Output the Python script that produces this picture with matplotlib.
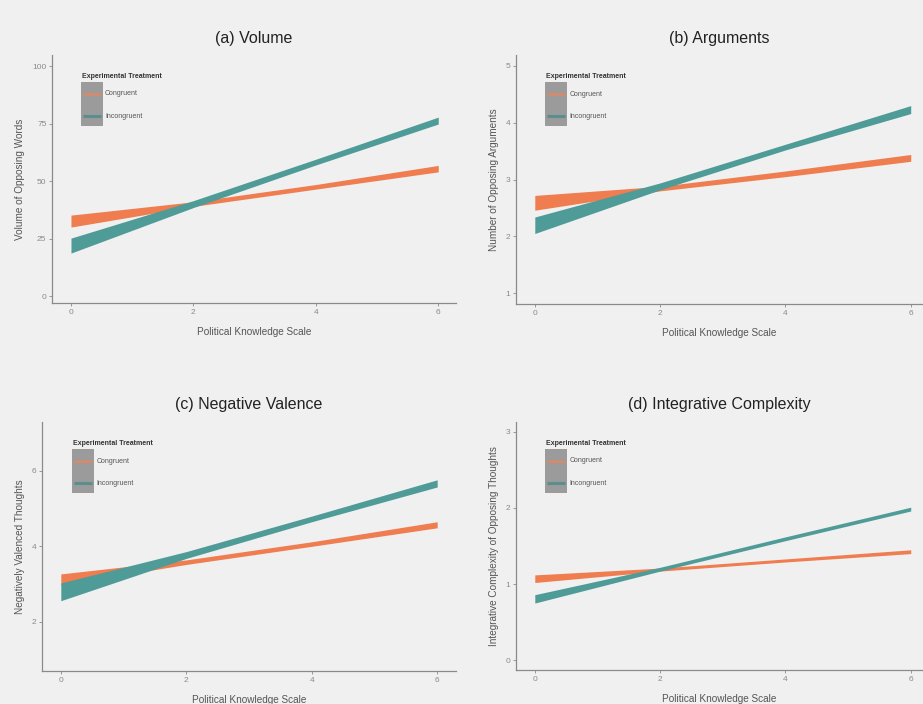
import numpy as np
import matplotlib.pyplot as plt
from matplotlib.patches import Rectangle

plt.rcParams['font.family'] = ['Liberation Sans', 'DejaVu Sans']

# knowledge scale points where the ribbons were read
knowledge = [0, 2, 4, 6]

# (a) Volume
vol_cong_lo = [30.0, 39.0, 46.5, 54.0]
vol_cong_hi = [35.2, 41.0, 48.5, 56.8]
vol_incong_lo = [18.7, 38.5, 57.0, 74.8]
vol_incong_hi = [25.2, 41.5, 59.5, 77.8]

# (b) Arguments
arg_cong_lo = [2.46, 2.80, 3.05, 3.32]
arg_cong_hi = [2.72, 2.88, 3.15, 3.44]
arg_incong_lo = [2.05, 2.82, 3.52, 4.16]
arg_incong_hi = [2.34, 2.94, 3.62, 4.30]

# (c) Negative Valence
neg_cong_lo = [2.98, 3.52, 4.00, 4.49]
neg_cong_hi = [3.27, 3.64, 4.12, 4.65]
neg_incong_lo = [2.56, 3.68, 4.65, 5.57]
neg_incong_hi = [3.03, 3.86, 4.80, 5.76]

# (d) Integrative Complexity
ic_cong_lo = [1.02, 1.17, 1.29, 1.40]
ic_cong_hi = [1.12, 1.21, 1.33, 1.45]
ic_incong_lo = [0.75, 1.17, 1.57, 1.96]
ic_incong_hi = [0.86, 1.22, 1.62, 2.01]

titles = ["(a) Volume", "(b) Arguments", "(c) Negative Valence", "(d) Integrative Complexity"]
ylabels = ["Volume of Opposing Words", "Number of Opposing Arguments",
           "Negatively Valenced Thoughts", "Integrative Complexity of Opposing Thoughts"]
yticks = [[0, 25, 50, 75, 100], [1, 2, 3, 4, 5], [2, 4, 6], [0, 1, 2, 3]]
xticks = [0, 2, 4, 6]
legend_title = "Experimental Treatment"
groups = ["Congruent", "Incongruent"]

orange = "#ef7d4f"
teal = "#4f9b98"
bg = "#f0f0f0"

W, H = 923, 704
fig = plt.figure(figsize=(W / 100, H / 100), dpi=100, facecolor=bg)

# axes boxes in pixels: left, top, right, bottom
boxes = [(52, 55, 456, 303), (516, 55, 922, 304), (42, 422, 456, 671), (516, 422, 922, 670)]
xlims = [(-0.31, 6.29), (-0.30, 6.18), (-0.30, 6.30), (-0.30, 6.18)]
ylims = [(-3.0, 104.8), (0.81, 5.19), (0.70, 7.29), (-0.13, 3.13)]

data = [
    (vol_cong_lo, vol_cong_hi, vol_incong_lo, vol_incong_hi),
    (arg_cong_lo, arg_cong_hi, arg_incong_lo, arg_incong_hi),
    (neg_cong_lo, neg_cong_hi, neg_incong_lo, neg_incong_hi),
    (ic_cong_lo, ic_cong_hi, ic_incong_lo, ic_incong_hi),
]

for i in range(4):
    l, t, r, b = boxes[i]
    ax = fig.add_axes([l / W, 1 - b / H, (r - l) / W, (b - t) / H])
    ax.set_facecolor(bg)
    c_lo, c_hi, n_lo, n_hi = data[i]
    ax.fill_between(knowledge, c_lo, c_hi, color=orange, lw=0)
    ax.fill_between(knowledge, n_lo, n_hi, color=teal, lw=0)

    ax.set_xlim(*xlims[i])
    ax.set_ylim(*ylims[i])
    ax.set_xticks(xticks)
    ax.set_yticks(yticks[i])
    for s in ["top", "right"]:
        ax.spines[s].set_visible(False)
    for s in ["left", "bottom"]:
        ax.spines[s].set_color("#8a8a8a")
        ax.spines[s].set_linewidth(0.9)
    ax.tick_params(length=2, width=0.6, color="#8a8a8a", labelsize=6,
                   labelcolor="#8a8a8a", pad=2)
    ax.set_title(titles[i], fontsize=11.5, color="#222222", pad=9)
    ax.set_xlabel("Political Knowledge Scale", fontsize=7.2, color="#555555", labelpad=8)
    ax.set_ylabel(ylabels[i], fontsize=7.2, color="#555555", labelpad=5)

    # legend drawn in axes fraction
    ax.text(0.074, 0.915, legend_title, transform=ax.transAxes, fontsize=5,
            fontweight="bold", color="#333333", va="center", ha="left")
    ax.add_patch(Rectangle((0.072, 0.714), 0.054, 0.177, transform=ax.transAxes,
                           facecolor="#9b9b9b", edgecolor="none"))
    for y, col, lab in [(0.843, "#cf8c6e", groups[0]), (0.754, "#5a8f8d", groups[1])]:
        ax.plot([0.077, 0.121], [y, y], transform=ax.transAxes, color=col, lw=2.2,
                solid_capstyle="butt")
        ax.text(0.131, y, lab, transform=ax.transAxes, fontsize=5, color="#555555",
                va="center", ha="left")

fig.savefig("out.png", dpi=100, facecolor=bg)
